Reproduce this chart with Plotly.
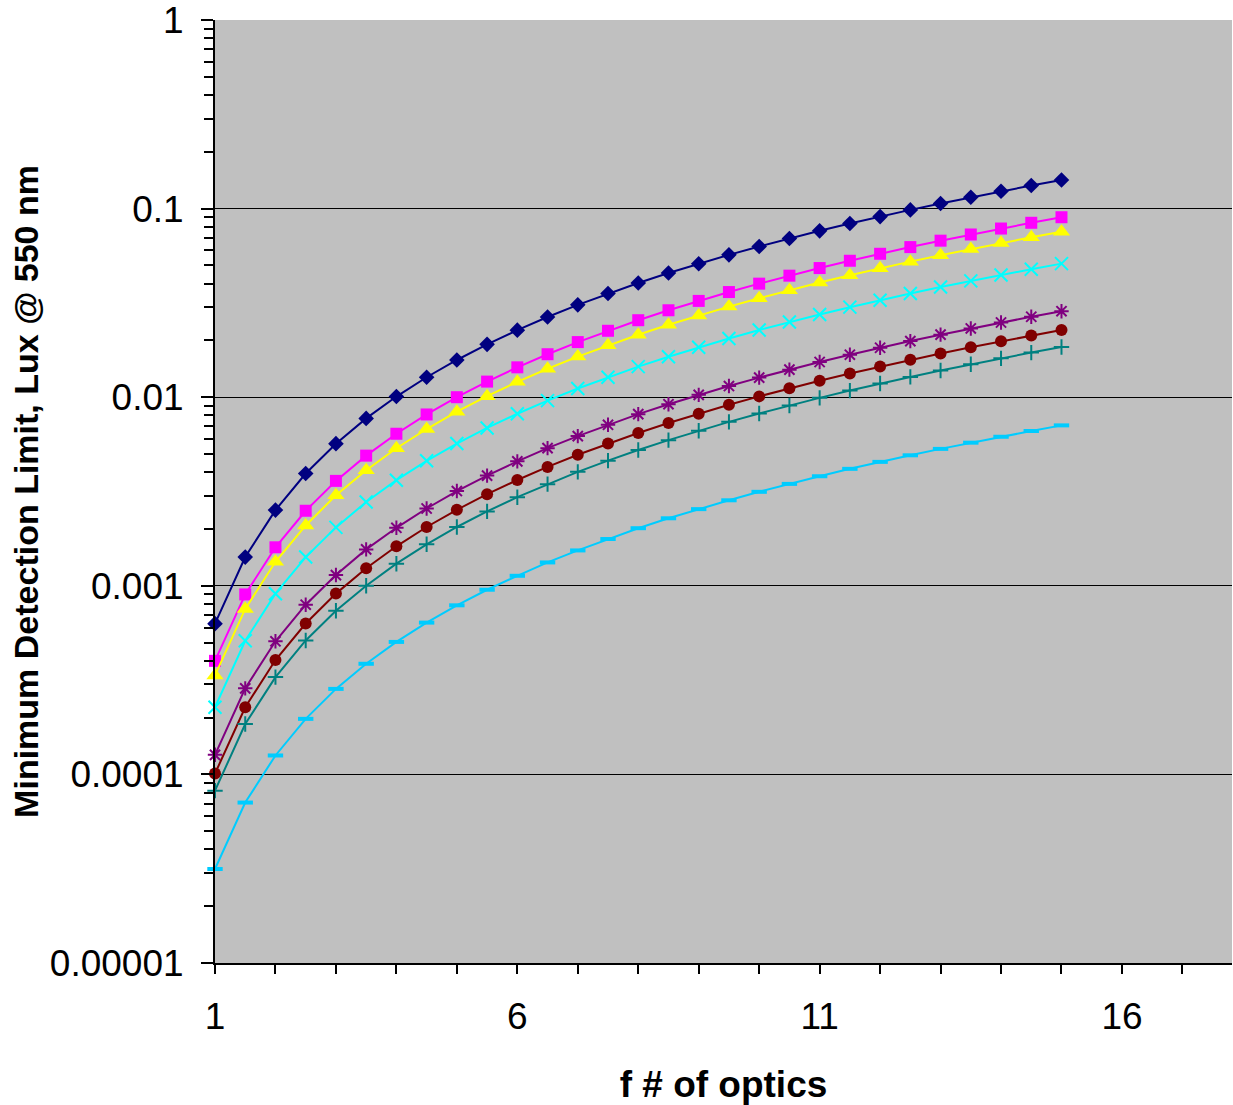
import plotly.graph_objects as go

f_number = [1, 1.5, 2, 2.5, 3, 3.5, 4, 4.5, 5, 5.5, 6, 6.5, 7, 7.5, 8, 8.5, 9, 9.5,
            10, 10.5, 11, 11.5, 12, 12.5, 13, 13.5, 14, 14.5, 15]

series_1 = [0.00063, 0.00142, 0.00252, 0.00394, 0.00567, 0.00772, 0.01008, 0.01276, 0.01575,
            0.01906, 0.02268, 0.02662, 0.03087, 0.03544, 0.04032, 0.04552, 0.05103, 0.05686,
            0.063, 0.06946, 0.07623, 0.08332, 0.09072, 0.09844, 0.10647, 0.11482, 0.12348,
            0.13246, 0.14175]
series_2 = [0.0004, 0.0009, 0.0016, 0.0025, 0.0036, 0.0049, 0.0064, 0.0081, 0.01, 0.0121,
            0.0144, 0.0169, 0.0196, 0.0225, 0.0256, 0.0289, 0.0324, 0.0361, 0.04, 0.0441,
            0.0484, 0.0529, 0.0576, 0.0625, 0.0676, 0.0729, 0.0784, 0.0841, 0.09]
series_3 = [0.000335, 0.000754, 0.00134, 0.00209, 0.00302, 0.0041, 0.00536, 0.00678, 0.00838,
            0.01013, 0.01206, 0.01415, 0.01642, 0.01884, 0.02144, 0.0242, 0.02714, 0.03023,
            0.0335, 0.03693, 0.04054, 0.0443, 0.04824, 0.05234, 0.05662, 0.06105, 0.06566,
            0.07043, 0.07538]
series_4 = [0.000227, 0.000511, 0.000908, 0.00142, 0.00204, 0.00278, 0.00363, 0.0046, 0.00568,
            0.00687, 0.00817, 0.00959, 0.01112, 0.01277, 0.01453, 0.0164, 0.01839, 0.02049,
            0.0227, 0.02503, 0.02747, 0.03002, 0.03269, 0.03547, 0.03836, 0.04137, 0.04449,
            0.04773, 0.05108]
series_5 = [0.000127, 0.000286, 0.000508, 0.000794, 0.00114, 0.00156, 0.00203, 0.00257, 0.00318,
            0.00384, 0.00457, 0.00537, 0.00622, 0.00714, 0.00813, 0.00918, 0.01029, 0.01146,
            0.0127, 0.014, 0.01537, 0.0168, 0.01829, 0.01984, 0.02146, 0.02315, 0.02489,
            0.0267, 0.02858]
series_6 = [0.000101, 0.000227, 0.000404, 0.000631, 0.000909, 0.00124, 0.00162, 0.00205, 0.00253,
            0.00306, 0.00364, 0.00427, 0.00495, 0.00568, 0.00646, 0.0073, 0.00818, 0.00912,
            0.0101, 0.01114, 0.01222, 0.01336, 0.01454, 0.01578, 0.01707, 0.01841, 0.0198,
            0.02124, 0.02273]
series_7 = [0.000082, 0.000185, 0.000328, 0.000513, 0.000738, 0.001, 0.00131, 0.00166, 0.00205,
            0.00248, 0.00295, 0.00346, 0.00402, 0.00461, 0.00525, 0.00592, 0.00664, 0.0074,
            0.0082, 0.00904, 0.00992, 0.01084, 0.01181, 0.01281, 0.01386, 0.01494, 0.01607,
            0.01724, 0.01845]
series_8 = [0.0000315, 0.0000709, 0.000126, 0.000197, 0.000284, 0.000386, 0.000504, 0.000638,
            0.000788, 0.000953, 0.00113, 0.00133, 0.00154, 0.00177, 0.00202, 0.00228, 0.00255,
            0.00284, 0.00315, 0.00347, 0.00381, 0.00417, 0.00454, 0.00492, 0.00532, 0.00574,
            0.00617, 0.00662, 0.00709]

y_tick_values = [0.00001, 0.0001, 0.001, 0.01, 0.1, 1]
y_tick_labels = ["0.00001", "0.0001", "0.001", "0.01", "0.1", "1"]
x_tick_values = [1, 6, 11, 16]
x_tick_labels = ["1", "6", "11", "16"]

FONT = "Arial, Liberation Sans, sans-serif"

styles = [
    (series_1, "Series 1", "#000080", dict(symbol="diamond", size=12)),
    (series_2, "Series 2", "#FF00FF", dict(symbol="square", size=12)),
    (series_3, "Series 3", "#FFFF00", dict(symbol="triangle-up", size=15)),
    (series_4, "Series 4", "#00FFFF", dict(symbol="x-thin-open", size=13, line=dict(width=2, color="#00FFFF"))),
    (series_5, "Series 5", "#800080", dict(symbol="asterisk-open", size=12, line=dict(width=2, color="#800080"))),
    (series_6, "Series 6", "#800000", dict(symbol="circle", size=12)),
    (series_7, "Series 7", "#008080", dict(symbol="cross-thin-open", size=11, line=dict(width=2, color="#008080"))),
    (series_8, "Series 8", "#00CCFF", dict(symbol="line-ew-open", size=11, line=dict(width=4, color="#00CCFF"))),
]

fig = go.Figure()
for ys, name, color, marker in styles:
    m = dict(color=color)
    m.update(marker)
    fig.add_trace(go.Scatter(x=f_number, y=ys, name=name, mode="lines+markers",
                             line=dict(color=color, width=2), marker=m, cliponaxis=False))

fig.update_layout(
    width=1233, height=1105,
    margin=dict(l=215, r=1, t=20, b=142),
    paper_bgcolor="white", plot_bgcolor="#C0C0C0",
    showlegend=False,
    font=dict(family=FONT, color="black"),
)

fig.update_xaxes(
    range=[1, 17.82], tickvals=x_tick_values, ticktext=x_tick_labels,
    automargin=False,
    showgrid=False, zeroline=False,
    showline=True, linecolor="black", linewidth=2,
    ticks="outside", ticklen=9, tickwidth=2, tickcolor="black",
    minor=dict(dtick=1, tick0=1, ticks="outside", ticklen=9, tickwidth=2, tickcolor="black", showgrid=False),
    tickfont=dict(size=37, family=FONT),
    ticklabelstandoff=11,
    ticklabeloverflow="allow",
    title=dict(text="<b>f # of optics</b>", font=dict(size=37, family=FONT), standoff=36),
)
fig.update_yaxes(
    type="log", range=[-5, 0], tickvals=y_tick_values, ticktext=y_tick_labels,
    automargin=False,
    showgrid=True, gridcolor="black", gridwidth=1, zeroline=False,
    showline=True, linecolor="black", linewidth=2,
    ticks="outside", ticklen=12, tickwidth=2, tickcolor="black",
    minor=dict(dtick="D1", ticks="outside", ticklen=9, tickwidth=2, tickcolor="black", showgrid=False),
    tickfont=dict(size=37, family=FONT),
    ticklabelstandoff=10,
    ticklabeloverflow="allow",
    title=dict(text="<b>Minimum Detection Limit, Lux @ 550 nm</b>", font=dict(size=34, family=FONT), standoff=1),
)

fig.write_html("out.html", config={"displayModeBar": False},
               post_script="document.body.style.margin='0px';")
